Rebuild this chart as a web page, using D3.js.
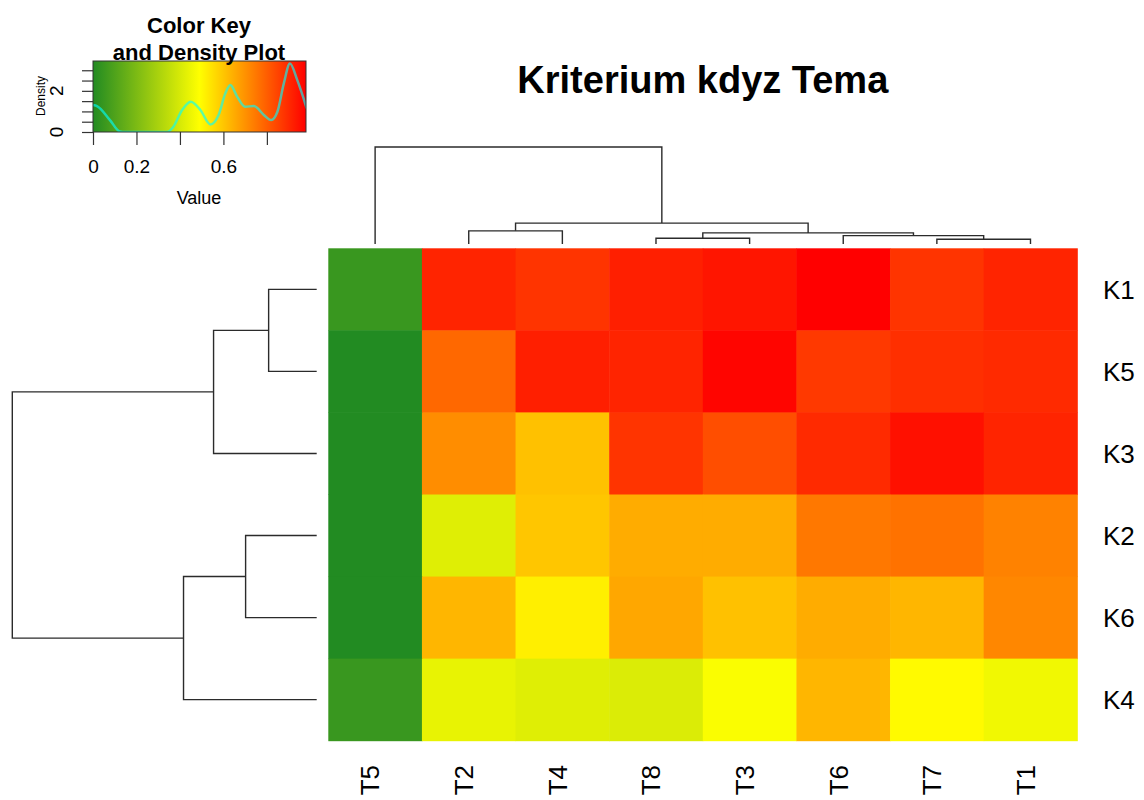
<!DOCTYPE html>
<html>
<head>
<meta charset="utf-8">
<script src="https://d3js.org/d3.v7.min.js"></script>
<style>
    body { margin: 0; background: #fff; }
    text { font-family: "Liberation Sans", Arial, sans-serif; fill: #000; }
</style>
</head>
<body>
<div id="heatmap"></div>
<script>
// row and column labels in display order
var rowLabels = ["K1", "K5", "K3", "K2", "K6", "K4"];
var colLabels = ["T5", "T2", "T4", "T8", "T3", "T6", "T7", "T1"];

// cell values, one array per row (columns in colLabels order)
var rowK1 = [0.05, 0.91, 0.88, 0.92, 0.94, 0.98, 0.88, 0.91];
var rowK5 = [0.00, 0.78, 0.92, 0.91, 0.97, 0.87, 0.89, 0.90];
var rowK3 = [0.00, 0.71, 0.61, 0.88, 0.83, 0.90, 0.95, 0.91];
var rowK2 = [0.00, 0.42, 0.60, 0.65, 0.65, 0.75, 0.76, 0.73];
var rowK6 = [0.00, 0.63, 0.52, 0.66, 0.61, 0.65, 0.63, 0.72];
var rowK4 = [0.05, 0.44, 0.42, 0.41, 0.48, 0.63, 0.50, 0.46];
var values = [rowK1, rowK5, rowK3, rowK2, rowK6, rowK4];

// dendrograms, hclust style: negative = leaf (1-based in label order), positive = earlier merge
var colMerge = [[-7, -8], [-4, -5], [-6, 1], [2, 3], [-2, -3], [5, 4], [-1, 6]];
var colHeight = [0.47, 0.57, 0.83, 1.10, 1.30, 2.07, 9.6];
var rowMerge = [[-1, -2], [-4, -5], [1, -3], [2, -6], [3, 4]];
var rowHeight = [0.48, 0.71, 1.03, 1.33, 3.04];

// color key density curve
var densityX = [0, 0.02, 0.078, 0.123, 0.15, 0.34, 0.37, 0.41, 0.45, 0.494, 0.54, 0.578, 0.609, 0.632, 0.663, 0.70, 0.74, 0.786, 0.82, 0.848, 0.878, 0.906, 0.94, 0.983];
var densityY = [1.31, 1.25, 0.58, 0.03, 0, 0, 0.26, 1.07, 1.47, 1.07, 0.37, 0.83, 1.88, 2.28, 1.72, 1.23, 1.26, 0.83, 0.58, 0.97, 2.36, 3.33, 2.52, 1.15];
var keyTicks = [0, 0.2, 0.4, 0.6, 0.8];
var keyTickLabels = ["0", "0.2", "", "0.6", ""];
var densityTicks = [0, 0.5, 1, 1.5, 2, 2.5, 3];
var densityTickLabels = ["0", "", "", "", "2", "", ""];

var title = "Kriterium kdyz Tema";

var width = 1144, height = 800;

var svg = d3.select("#heatmap")
    .append("svg")
    .attr("width", width)
    .attr("height", height);

// color scale green -> yellow -> red over the data range
var allValues = d3.merge(values);
var vmax = d3.max(allValues), vmin = d3.min(allValues);
var color = d3.scaleLinear()
    .domain([vmin, (vmin + vmax) / 2, vmax])
    .range(["#228B22", "#FFFF00", "#FF0000"]);

// heatmap scales
var x = d3.scaleBand().domain(colLabels).range([328.3, 1077.3]);
var y = d3.scaleBand().domain(rowLabels).range([248.3, 740.7]);

var cells = [];
values.forEach(function (row, i) {
    row.forEach(function (v, j) {
        cells.push({ row: rowLabels[i], col: colLabels[j], value: v });
    });
});

svg.append("g")
    .selectAll("rect")
    .data(cells)
    .enter()
    .append("rect")
    .attr("x", function (d) { return x(d.col); })
    .attr("y", function (d) { return y(d.row); })
    .attr("width", x.bandwidth() + 0.5)
    .attr("height", y.bandwidth() + 0.5)
    .attr("fill", function (d) { return color(d.value); });

// row labels on the right
svg.append("g")
    .selectAll("text")
    .data(rowLabels)
    .enter()
    .append("text")
    .attr("x", 1103)
    .attr("y", function (d) { return y(d) + y.bandwidth() / 2; })
    .attr("dy", "0.36em")
    .style("font-size", "26px")
    .text(function (d) { return d; });

// column labels, rotated
svg.append("g")
    .selectAll("text")
    .data(colLabels)
    .enter()
    .append("text")
    .attr("transform", function (d) {
        return "translate(" + (x(d) + x.bandwidth() / 2 - 5) + ",765) rotate(-90)";
    })
    .attr("text-anchor", "end")
    .attr("dy", "0.36em")
    .style("font-size", "26px")
    .text(function (d) { return d; });

// title
svg.append("text")
    .attr("x", (328.3 + 1077.3) / 2)
    .attr("y", 93)
    .attr("text-anchor", "middle")
    .style("font-size", "38px")
    .style("font-weight", "bold")
    .text(title);

// build dendrogram segments from a merge table
function dendroSegments(merge, heights, leafPos) {
    var nodes = [];
    var segs = [];
    function get(k) {
        if (k < 0) return { pos: leafPos[-k - 1], h: 0 };
        return nodes[k - 1];
    }
    merge.forEach(function (m, i) {
        var a = get(m[0]), b = get(m[1]), h = heights[i];
        segs.push([[a.pos, a.h], [a.pos, h], [b.pos, h], [b.pos, b.h]]);
        nodes.push({ pos: (a.pos + b.pos) / 2, h: h });
    });
    return segs;
}

// column dendrogram (top)
var colLeafPos = colLabels.map(function (d) { return x(d) + x.bandwidth() / 2; });
var hTop = d3.scaleLinear().domain([0, d3.max(colHeight)]).range([244, 147]);
var topLine = d3.line()
    .x(function (d) { return d[0]; })
    .y(function (d) { return hTop(d[1]); });
svg.append("g")
    .selectAll("path")
    .data(dendroSegments(colMerge, colHeight, colLeafPos))
    .enter()
    .append("path")
    .attr("d", topLine)
    .attr("fill", "none")
    .attr("stroke", "#2b2b2b")
    .attr("stroke-width", 1.4);

// row dendrogram (left)
var rowLeafPos = rowLabels.map(function (d) { return y(d) + y.bandwidth() / 2; });
var hLeft = d3.scaleLinear().domain([0, d3.max(rowHeight)]).range([316.7, 12.3]);
var leftLine = d3.line()
    .x(function (d) { return hLeft(d[1]); })
    .y(function (d) { return d[0]; });
svg.append("g")
    .selectAll("path")
    .data(dendroSegments(rowMerge, rowHeight, rowLeafPos))
    .enter()
    .append("path")
    .attr("d", leftLine)
    .attr("fill", "none")
    .attr("stroke", "#2b2b2b")
    .attr("stroke-width", 1.4);

// ---- color key and density plot ----
var kx = d3.scaleLinear().domain([vmin, vmax]).range([93, 306]);
var ky = d3.scaleLinear().domain([0, 3.45]).range([132, 61]);

var grad = svg.append("defs")
    .append("linearGradient")
    .attr("id", "keyGrad");
color.domain().forEach(function (v) {
    grad.append("stop")
        .attr("offset", ((v - vmin) / (vmax - vmin) * 100) + "%")
        .attr("stop-color", color(v));
});
svg.select("defs")
    .append("clipPath")
    .attr("id", "keyClip")
    .append("rect")
    .attr("x", 93).attr("y", 61).attr("width", 213).attr("height", 71);

svg.append("rect")
    .attr("x", 93)
    .attr("y", 61)
    .attr("width", 213)
    .attr("height", 71)
    .attr("fill", "url(#keyGrad)");

var densityPts = densityX.map(function (d, i) { return [d, densityY[i]]; });
svg.append("path")
    .datum(densityPts)
    .attr("clip-path", "url(#keyClip)")
    .attr("fill", "none")
    .attr("stroke", "cyan")
    .attr("stroke-opacity", 0.62)
    .attr("stroke-width", 2.5)
    .attr("d", d3.line()
        .curve(d3.curveMonotoneX)
        .x(function (d) { return kx(d[0]); })
        .y(function (d) { return ky(d[1]); }));

svg.append("rect")
    .attr("x", 93)
    .attr("y", 61)
    .attr("width", 213)
    .attr("height", 71)
    .attr("fill", "none")
    .attr("stroke", "#333")
    .attr("stroke-width", 1);

// key x axis
var keyAxis = svg.append("g")
    .attr("transform", "translate(0,132)")
    .call(d3.axisBottom(kx)
        .tickValues(keyTicks)
        .tickSize(13)
        .tickPadding(15)
        .tickFormat(function (d, i) { return keyTickLabels[i]; }));
keyAxis.select(".domain").remove();
keyAxis.selectAll("line").attr("stroke", "#333").attr("stroke-width", 1.2);
keyAxis.selectAll("text")
    .style("font-size", "19px")
    .style("font-family", "'Liberation Sans', Arial, sans-serif")
    .attr("fill", "#000");

// key y axis (density)
var densAxis = svg.append("g")
    .attr("transform", "translate(93,0)")
    .call(d3.axisLeft(ky)
        .tickValues(densityTicks)
        .tickSize(11)
        .tickFormat(""));
densAxis.select(".domain").remove();
densAxis.selectAll("line").attr("stroke", "#333").attr("stroke-width", 1.2);

svg.append("g")
    .selectAll("text")
    .data(densityTicks)
    .enter()
    .append("text")
    .attr("transform", function (d) { return "translate(63," + ky(d) + ") rotate(-90)"; })
    .attr("text-anchor", "middle")
    .style("font-size", "19px")
    .text(function (d, i) { return densityTickLabels[i]; });

svg.append("text")
    .attr("transform", "translate(45,96) rotate(-90)")
    .attr("text-anchor", "middle")
    .style("font-size", "12px")
    .text("Density");

svg.append("text")
    .attr("x", 199)
    .attr("y", 204)
    .attr("text-anchor", "middle")
    .style("font-size", "18px")
    .text("Value");

svg.append("text")
    .attr("x", 199)
    .attr("y", 33)
    .attr("text-anchor", "middle")
    .style("font-size", "22px")
    .style("font-weight", "bold")
    .text("Color Key");

svg.append("text")
    .attr("x", 199)
    .attr("y", 60)
    .attr("text-anchor", "middle")
    .style("font-size", "22px")
    .style("font-weight", "bold")
    .text("and Density Plot");
</script>
</body>
</html>
